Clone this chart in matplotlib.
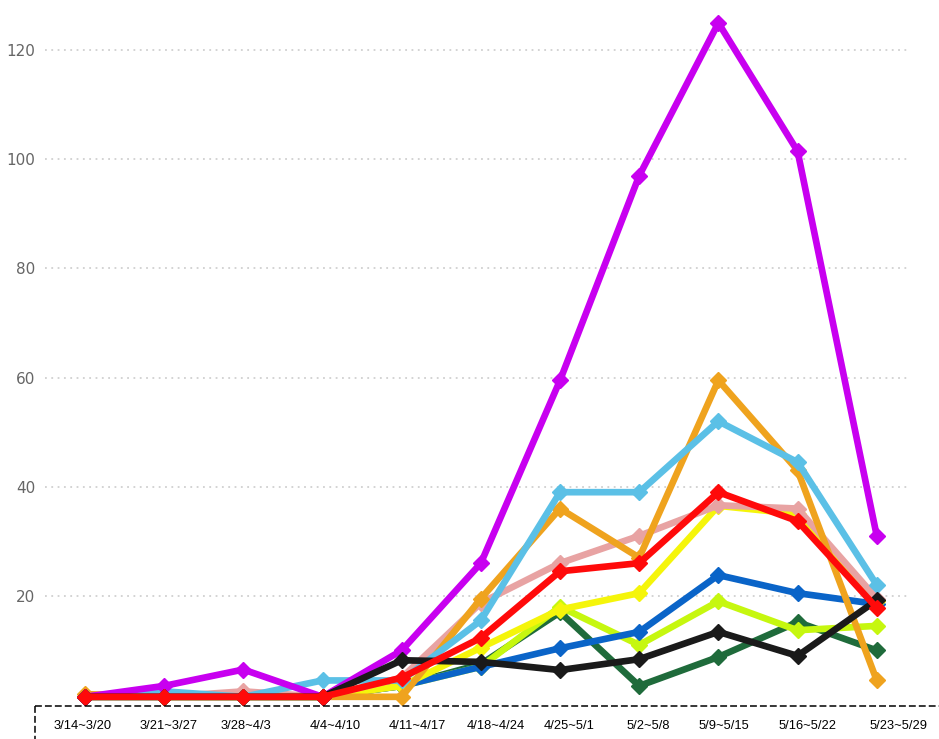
import matplotlib.pyplot as plt
from matplotlib.lines import Line2D

weeks = ['3/14~3/20', '3/21~3/27', '3/28~4/3', '4/4~4/10', '4/11~4/17', '4/18~4/24',
         '4/25~5/1', '5/2~5/8', '5/9~5/15', '5/16~5/22', '5/23~5/29']

dark_green = [1.5, 1.5, 1.5, 1.5, 3.5, 7.5, 17, 3.5, 8.8, 15.2, 10]
lime = [1.5, 1.5, 1.5, 1.5, 3.5, 7, 18, 11, 19, 13.7, 14.5]
blue = [1.5, 1.5, 1.5, 1.5, 3.5, 7, 10.4, 13.4, 23.8, 20.5, 18.5]
yellow = [1.5, 1.5, 1.5, 1.5, 3.5, 10.5, 17.5, 20.5, 36.5, 35, 19]
pink = [1.5, 1.5, 2.5, 1.5, 5, 18.7, 26, 31, 36.6, 36, 19.5]
orange = [2, 1.5, 1.5, 1.5, 1.5, 19.5, 36, 27, 59.5, 43, 4.5]
light_blue = [1.5, 2.5, 1.5, 4.5, 4.5, 15.5, 39, 39, 52, 44.5, 22]
purple = [1.5, 3.5, 6.5, 1.5, 10, 26, 59.5, 97, 125, 101.5, 31]
black = [1.5, 1.5, 1.5, 1.5, 8.2, 7.9, 6.4, 8.4, 13.4, 9, 19.2]
red = [1.5, 1.5, 1.5, 1.5, 5, 12.3, 24.5, 26, 39, 33.7, 17.8]

# drawing order, bottom to top
series = [
    (dark_green, '#1f6b3b'),
    (lime, '#c6f70f'),
    (blue, '#0a64c8'),
    (yellow, '#f5f50a'),
    (pink, '#e8a3a3'),
    (orange, '#efa31e'),
    (light_blue, '#5bc0e6'),
    (purple, '#c800f0'),
    (black, '#1a1a1a'),
    (red, '#ff0a0a'),
]

# x positions of the week labels (data units), they sit a bit off the points
label_pos = [-0.03, 1.05, 2.03, 3.16, 4.2, 5.19, 6.12, 7.11, 8.07, 9.13, 10.28]

fig = plt.figure(figsize=(9.39, 7.39), dpi=100)
ax = fig.add_axes([45 / 939, 34 / 739, 865 / 939, 693 / 739])

x = list(range(len(weeks)))
for vals, col in series:
    ax.plot(x, vals, color=col, lw=4.8, marker='D', ms=8, mfc=col, mec=col,
            solid_joinstyle='miter', clip_on=False)

ax.set_xlim(-0.505, 10.42)
ax.set_ylim(0, 127)
ax.set_yticks([20, 40, 60, 80, 100, 120])
ax.tick_params(axis='y', length=0, pad=7, labelcolor='#666666', labelsize=11)
ax.set_xticks([])
for s in ax.spines.values():
    s.set_visible(False)
ax.grid(axis='y', color='#d0d0d0', linestyle=(0, (1, 2.5)), lw=1.3)
ax.set_axisbelow(True)

for pos, lab in zip(label_pos, weeks):
    ax.text(pos, -0.03, lab, transform=ax.get_xaxis_transform(), ha='center', va='center',
            fontsize=9.3, family='Liberation Sans', color='black')

# dashed frame round the week labels
fig.add_artist(Line2D([35 / 939, 1], [33 / 739, 33 / 739], color='black', lw=1.1,
                      linestyle=(0, (4.5, 2))))
fig.add_artist(Line2D([35 / 939, 35 / 939], [33 / 739, 0], color='black', lw=1.1,
                      linestyle=(0, (4.5, 2))))

fig.savefig('out.png', dpi=100)
